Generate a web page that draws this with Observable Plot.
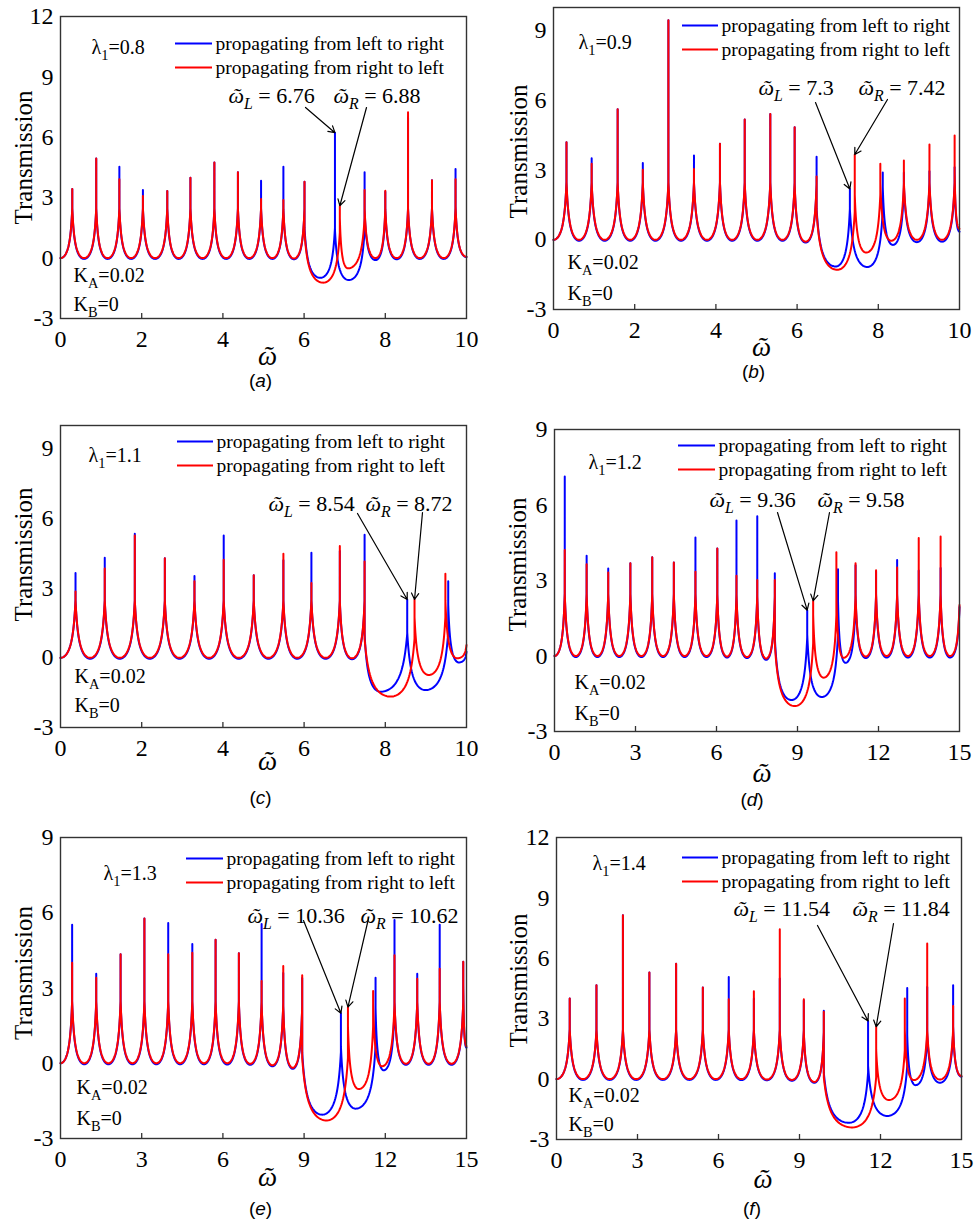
<!DOCTYPE html>
<html><head><meta charset="utf-8">
<script src="https://cdn.jsdelivr.net/npm/d3@7"></script>
<script src="https://cdn.jsdelivr.net/npm/@observablehq/plot@0.6"></script>
<style>
html,body{margin:0;padding:0;background:#fff;}
#fig{position:relative;width:975px;height:1219px;overflow:hidden;background:#fff;}
#fig > div{position:absolute;}
#fig svg{overflow:visible;}
#fig svg text{font-family:'Liberation Serif','Times New Roman',serif !important;font-variant:normal !important;}
</style></head><body><div id="fig"></div>
<script>
// ---------- data ----------
const lambdas = [0.8, 0.9, 1.1, 1.2, 1.3, 1.4];
const omegaL = [6.76, 7.3, 8.54, 9.36, 10.36, 11.54];
const omegaR = [6.88, 7.42, 8.72, 9.58, 10.62, 11.84];
const captions = ["a", "b", "c", "d", "e", "f"];
const kA = 0.02, kB = 0;
const legendLabels = ["propagating from left to right", "propagating from right to left"];
const xTicks10 = [0, 2, 4, 6, 8, 10];
const xTicks15 = [0, 3, 6, 9, 12, 15];
const yTicks12 = [-3, 0, 3, 6, 9, 12];
const yTicks9 = [-3, 0, 3, 6, 9];
const omegaSym = "ῶ";

// keypoints [omega, transmission] (troughs and peak tops)
const aBlue = [[0,0],[0.29,3.43],[0.58,-0.04],[0.88,4.95],[1.16,-0.04],[1.45,4.54],[1.74,-0.04],[2.03,3.38],[2.33,-0.04],[2.63,3.33],[2.91,-0.04],[3.20,3.99],[3.50,-0.04],[3.79,4.75],[4.08,-0.04],[4.37,4.26],[4.65,-0.04],[4.94,3.84],[5.22,-0.04],[5.49,4.54],[5.75,-0.06],[6.01,3.79],[6.40,-0.98],[6.76,6.23],[7.10,-1.09],[7.49,4.26],[7.76,-0.10],[8.00,3.30],[8.28,-0.06],[8.56,7.00],[8.85,-0.04],[9.15,3.87],[9.44,-0.04],[9.73,4.42],[10,0.05]];
const aRed = [[0,0],[0.29,3.43],[0.58,0],[0.88,4.95],[1.16,0],[1.45,3.92],[1.74,0],[2.03,3.08],[2.33,0],[2.63,3.33],[2.91,0],[3.20,3.99],[3.50,0],[3.79,4.75],[4.08,0],[4.37,4.26],[4.65,0],[4.94,2.93],[5.22,0],[5.49,2.88],[5.75,-0.02],[6.01,3.79],[6.47,-1.22],[6.88,2.60],[7.08,-0.51],[7.49,3.38],[7.76,0],[8.00,3.35],[8.28,0],[8.56,7.24],[8.85,0],[9.15,3.87],[9.44,0],[9.73,3.92],[10,0.07]];

const bBlue = [[0,0],[0.32,4.20],[0.63,-0.04],[0.94,3.51],[1.26,-0.04],[1.58,5.62],[1.89,-0.04],[2.20,3.31],[2.51,-0.04],[2.83,9.45],[3.14,-0.04],[3.46,3.63],[3.78,-0.04],[4.10,4.13],[4.40,-0.04],[4.71,5.18],[5.02,-0.04],[5.34,5.42],[5.64,-0.04],[5.94,4.85],[6.21,-0.12],[6.48,3.58],[6.95,-1.15],[7.30,2.19],[7.73,-1.17],[8.11,2.90],[8.36,-0.22],[8.63,2.90],[8.95,-0.10],[9.26,2.95],[9.57,-0.08],[9.88,3.12],[10,0.35]];
const bRed = [[0,0],[0.32,4.20],[0.63,0],[0.94,3.27],[1.26,0],[1.58,5.62],[1.89,0],[2.20,3.02],[2.51,0],[2.83,9.45],[3.14,0],[3.46,3.05],[3.78,0],[4.10,4.13],[4.40,0],[4.71,5.18],[5.02,0],[5.34,5.42],[5.64,0],[5.94,4.85],[6.21,-0.08],[6.48,2.73],[6.99,-1.29],[7.42,3.67],[7.70,-0.55],[8.05,3.27],[8.32,-0.04],[8.63,3.41],[8.95,0],[9.26,4.10],[9.57,0],[9.88,4.49],[10,0.47]];

const cBlue = [[0,0],[0.37,3.65],[0.73,-0.04],[1.09,4.31],[1.46,-0.04],[1.83,5.34],[2.20,-0.04],[2.57,4.29],[2.93,-0.04],[3.30,3.52],[3.66,-0.04],[4.02,5.27],[4.39,-0.04],[4.76,3.55],[5.12,-0.04],[5.49,4.20],[5.83,-0.04],[6.18,4.52],[6.53,-0.04],[6.88,4.60],[7.18,-0.06],[7.49,5.30],[7.88,-1.46],[8.54,2.51],[8.99,-1.39],[9.55,3.30],[9.81,-0.20],[10,0.26]];
const cRed = [[0,0],[0.37,2.85],[0.73,0],[1.09,3.84],[1.46,0],[1.83,5.27],[2.20,0],[2.57,4.29],[2.93,0],[3.30,3.30],[3.66,0],[4.02,4.22],[4.39,0],[4.76,3.55],[5.12,0],[5.49,4.48],[5.83,0],[6.18,3.22],[6.53,0],[6.88,4.81],[7.18,-0.02],[7.49,4.15],[8.13,-1.67],[8.72,2.51],[9.07,-0.74],[9.48,3.62],[9.77,-0.02],[10,0.55]];

const dBlue = [[0,0],[0.38,7.13],[0.79,-0.04],[1.19,3.98],[1.59,-0.04],[1.99,3.48],[2.40,-0.04],[2.81,3.69],[3.22,-0.04],[3.62,3.92],[4.02,-0.04],[4.42,3.72],[4.82,-0.04],[5.22,4.71],[5.63,-0.04],[6.03,4.27],[6.39,-0.06],[6.74,5.38],[7.13,-0.08],[7.51,5.55],[7.84,-0.15],[8.16,3.29],[8.78,-1.75],[9.36,1.82],[9.90,-1.63],[10.50,3.45],[10.78,-0.27],[11.15,3.61],[11.53,-0.08],[11.91,3.36],[12.30,-0.06],[12.69,3.81],[13.09,-0.06],[13.49,3.40],[13.90,-0.06],[14.30,3.50],[14.65,-0.06],[15,1.95]];
const dRed = [[0,0],[0.38,4.21],[0.79,0],[1.19,3.65],[1.59,0],[1.99,3.32],[2.40,0],[2.81,3.69],[3.22,0],[3.62,3.92],[4.02,0],[4.42,3.72],[4.82,0],[5.22,3.35],[5.63,0],[6.03,4.27],[6.39,-0.02],[6.74,3.19],[7.13,-0.04],[7.51,3.02],[7.84,-0.10],[8.16,3.02],[8.90,-1.99],[9.58,2.19],[9.97,-0.86],[10.44,4.12],[10.71,-0.07],[11.15,3.69],[11.53,-0.02],[11.91,3.41],[12.30,0],[12.69,3.52],[13.09,0],[13.49,4.69],[13.90,0],[14.30,4.75],[14.65,0],[15,2.03]];

const eBlue = [[0,0],[0.43,5.52],[0.88,-0.04],[1.32,3.57],[1.77,-0.04],[2.22,4.35],[2.66,-0.04],[3.10,5.77],[3.54,-0.04],[3.98,5.59],[4.42,-0.04],[4.87,4.75],[5.30,-0.04],[5.73,4.92],[6.16,-0.05],[6.59,4.39],[7.01,-0.06],[7.43,5.55],[7.83,-0.12],[8.23,3.60],[8.58,-0.22],[8.93,3.40],[9.67,-2.05],[10.36,1.99],[10.90,-1.81],[11.64,3.41],[11.94,-0.28],[12.34,5.71],[12.76,-0.06],[13.18,3.57],[13.60,-0.06],[14.01,5.52],[14.45,-0.06],[14.88,4.05],[15,0.62]];
const eRed = [[0,0],[0.43,4.01],[0.88,0],[1.32,3.41],[1.77,0],[2.22,4.35],[2.66,0],[3.10,5.77],[3.54,0],[3.98,4.35],[4.42,0],[4.87,4.41],[5.30,0],[5.73,4.92],[6.16,0],[6.59,4.39],[7.01,-0.02],[7.43,3.28],[7.83,-0.08],[8.23,3.88],[8.58,-0.18],[8.93,3.51],[9.83,-2.28],[10.62,2.24],[11.02,-1.03],[11.55,2.88],[11.88,-0.12],[12.34,4.31],[12.76,-0.02],[13.18,3.37],[13.60,-0.02],[14.01,3.77],[14.45,-0.02],[14.88,4.05],[15,0.68]];

const fBlue = [[0,0],[0.49,4.00],[0.98,-0.04],[1.48,4.66],[1.97,-0.04],[2.46,8.14],[2.95,-0.04],[3.44,5.29],[3.94,-0.04],[4.43,5.73],[4.92,-0.04],[5.42,4.55],[5.90,-0.04],[6.38,5.07],[6.85,-0.05],[7.31,4.00],[7.79,-0.06],[8.27,5.00],[8.72,-0.08],[9.16,3.90],[9.55,-0.18],[9.90,3.40],[10.83,-2.17],[11.54,2.89],[12.25,-1.83],[12.99,4.53],[13.30,-0.30],[13.73,4.58],[14.20,-0.18],[14.69,4.66],[15,0.12]];
const fRed = [[0,0],[0.49,4.00],[0.98,0],[1.48,4.66],[1.97,0],[2.46,8.14],[2.95,0],[3.44,5.29],[3.94,0],[4.43,5.73],[4.92,0],[5.42,4.55],[5.90,0],[6.38,3.97],[6.85,0],[7.31,4.36],[7.79,-0.02],[8.27,7.44],[8.72,-0.04],[9.16,3.97],[9.55,-0.14],[9.90,3.35],[10.95,-2.40],[11.84,2.60],[12.31,-1.04],[12.90,4.00],[13.23,-0.05],[13.73,6.73],[14.20,-0.02],[14.69,3.63],[15,0.15]];

// ---------- layout (page pixels / frame-relative pixels) ----------
const layout = [
  {col:0,   w:487, l:60,  r:466, t:16,  b:318,  xd:[0,10], yd:[-3,12], xt:xTicks10, yt:yTicks12, blue:aBlue, red:aRed,
   leg:[115,152,27,51], lam:[31,31], ka:[13,43], kb:[13,14], txtL:[168,79], txtR:[273,79], arrL:[245,91], arrR:[306,91], ylab:[-37,-10], xlab:[4,38], cap:[-3,62]},
  {col:487, w:488, l:553, r:959, t:7,   b:309,  xd:[0,10], yd:[-3,10], xt:xTicks10, yt:yTicks9, blue:bBlue, red:bRed,
   leg:[129,165,18,42], lam:[25,35], ka:[14,47], kb:[14,16], txtL:[205,80], txtR:[305,80], arrL:[262,95], arrR:[334,92], ylab:[-35,-7], xlab:[5,38], cap:[-3,62]},
  {col:0,   w:487, l:60,  r:466, t:425, b:727,  xd:[0,10], yd:[-3,10], xt:xTicks10, yt:yTicks9, blue:cBlue, red:cRed,
   leg:[117,153,16,40], lam:[28,30], ka:[14,51], kb:[14,22], txtL:[208,78], txtR:[305,78], arrL:[297,88], arrR:[362,87], ylab:[-37,-22], xlab:[4,34], cap:[-3,70]},
  {col:487, w:488, l:554, r:959, t:429, b:731,  xd:[0,15], yd:[-3,9], xt:xTicks15, yt:yTicks9, blue:dBlue, red:dRed,
   leg:[124,161,16,40], lam:[34,33], ka:[20,49], kb:[20,18], txtL:[155,70], txtR:[263,70], arrL:[223,83], arrR:[275,83], ylab:[-37,-16], xlab:[5,42], cap:[-5,68]},
  {col:0,   w:487, l:60,  r:466, t:837, b:1138, xd:[0,15], yd:[-3,9], xt:xTicks15, yt:yTicks9, blue:eBlue, red:eRed,
   leg:[126,163,21,45], lam:[43,36], ka:[16,51], kb:[16,20], txtL:[187,78], txtR:[300,78], arrL:[243,83], arrR:[308,81], ylab:[-37,-15], xlab:[4,39], cap:[-3,70]},
  {col:487, w:488, l:556, r:961, t:837, b:1139, xd:[0,15], yd:[-3,12], xt:xTicks15, yt:yTicks12, blue:fBlue, red:fRed,
   leg:[126,162,20,44], lam:[36,26], ka:[12,44], kb:[12,15], txtL:[177,71], txtR:[296,71], arrL:[261,88], arrR:[337,86], ylab:[-38,-8], xlab:[4,40], cap:[-7,69]}
];

// resonance-style curve: flat at troughs, vertical at peak tops
function cusp(S) {
  const k = 4;
  const T = d => 1 / (1 + k * d);
  const den = T(0) + T(2) - 2 * T(1);
  const G = d => (T(d) + T(2 - d) - 2 * T(1)) / den;
  const N = 40;
  return function(context) {
    let pts = [];
    return {
      areaStart() {}, areaEnd() {},
      lineStart() { pts = []; },
      point(x, y) { pts.push([+x, +y]); },
      lineEnd() {
        if (!pts.length) return;
        context.moveTo(pts[0][0], pts[0][1]);
        for (let i = 1; i < pts.length; i++) {
          const [x0, y0] = pts[i - 1], [x1, y1] = pts[i];
          const rising = y1 < y0;
          const s = Math.min(Math.abs(y1 - y0), S);
          for (let j = 1; j <= N; j++) {
            const u = j / N;
            let x, y;
            if (rising) {
              const d = (1 - u) * (1 - u);
              x = x1 - d * (x1 - x0);
              y = d === 0 ? y1 : y0 - s * G(d);
            } else {
              const d = u * u;
              x = x0 + d * (x1 - x0);
              y = y1 - s * G(d);
            }
            context.lineTo(x, y);
          }
        }
      }
    };
  };
}

// turn {i:..} {sub:..} {isub:..} {sans:..} {sansi:..} markup into tspans
function rich(svg) {
  const NS = "http://www.w3.org/2000/svg";
  svg.querySelectorAll("text").forEach(t => {
    const s = t.textContent;
    if (!s.includes("{")) return;
    const fs = parseFloat(getComputedStyle(t).fontSize) || 20;
    t.textContent = "";
    let shifted = false;
    const add = (str, kind) => {
      if (!str) return;
      const ts = document.createElementNS(NS, "tspan");
      ts.textContent = str;
      if (kind === "i" || kind === "isub" || kind === "sansi") ts.setAttribute("font-style", "italic");
      if (kind === "sans" || kind === "sansi") ts.setAttribute("font-family", "Liberation Sans, Arial, sans-serif");
      if (kind === "sub" || kind === "isub") {
        ts.setAttribute("font-size", (fs * 0.72).toFixed(1));
        if (!shifted) { ts.setAttribute("dy", (fs * 0.3).toFixed(1)); shifted = true; }
      } else if (shifted) { ts.setAttribute("dy", (-fs * 0.3).toFixed(1)); shifted = false; }
      t.appendChild(ts);
    };
    const re = /\{(i|sub|isub|sans|sansi):([^}]*)\}/g;
    let last = 0, m;
    while ((m = re.exec(s))) { add(s.slice(last, m.index), "n"); add(m[2], m[1]); last = re.lastIndex; }
    add(s.slice(last), "n");
  });
}

const serif = "Liberation Serif";
const fig = document.getElementById("fig");

layout.forEach((p, i) => {
  const fw = p.r - p.l, fh = p.b - p.t;
  const mt = Math.min(15, p.t), mb = 88;
  const X = rx => p.xd[0] + rx / fw * (p.xd[1] - p.xd[0]);
  const Y = ry => p.yd[1] - ry / fh * (p.yd[1] - p.yd[0]);
  const ppu = fh / (p.yd[1] - p.yd[0]);
  const curve = cusp(2.5 * ppu);
  const nearest = (arr, x) => arr.reduce((a, d) => Math.abs(d[0] - x) < Math.abs(a[0] - x) ? d : a);
  const tipL = nearest(p.blue, omegaL[i]), tipR = nearest(p.red, omegaR[i]);
  const txt = (s, o) => Plot.text([s], {text: d => d, fill: "#000", textAnchor: "middle", lineAnchor: "middle", ...o});
  const tl = (s, xy, size) => txt(s, {frameAnchor: "top-left", dx: xy[0], dy: xy[1], textAnchor: "start", fontSize: size});
  const bl = (s, xy, size) => txt(s, {frameAnchor: "bottom-left", dx: xy[0], dy: -xy[1], textAnchor: "start", fontSize: size});

  const chart = Plot.plot({
    width: p.w, height: mt + fh + mb,
    marginLeft: p.l - p.col, marginRight: p.col + p.w - p.r, marginTop: mt, marginBottom: mb,
    x: {domain: p.xd, axis: null},
    y: {domain: p.yd, axis: null},
    style: {fontFamily: serif, fontSize: "24px", color: "#000", background: "transparent", overflow: "visible"},
    marks: [
      Plot.line(p.blue, {x: d => d[0], y: d => d[1], stroke: "#0000ff", strokeWidth: 2, curve}),
      Plot.line(p.red, {x: d => d[0], y: d => d[1], stroke: "#ff0000", strokeWidth: 2, curve}),
      Plot.ruleX(p.xt.slice(1, -1), {x: d => d, y1: () => p.yd[0], y2: () => p.yd[0] + 5 / ppu, stroke: "#333", strokeWidth: 1.3}),
      Plot.frame({stroke: "#333", strokeWidth: 1.4}),
      Plot.axisX({ticks: p.xt, tickSize: 0, tickPadding: 11, tickFormat: d => String(d), label: null, fontSize: 24}),
      Plot.axisY({ticks: p.yt, tickSize: 0, tickPadding: 7, tickFormat: d => String(d), label: null, fontSize: 24}),
      // legend
      Plot.ruleY([{y: Y(p.leg[2]), x1: X(p.leg[0]), x2: X(p.leg[1])}], {y: "y", x1: "x1", x2: "x2", stroke: "#0000ff", strokeWidth: 2}),
      Plot.ruleY([{y: Y(p.leg[3]), x1: X(p.leg[0]), x2: X(p.leg[1])}], {y: "y", x1: "x1", x2: "x2", stroke: "#ff0000", strokeWidth: 2}),
      tl(legendLabels[0], [p.leg[1] + 3, p.leg[2]], 19.5),
      tl(legendLabels[1], [p.leg[1] + 3, p.leg[3]], 19.5),
      // parameters
      tl(`λ{sub:1}=${lambdas[i]}`, p.lam, 20),
      bl(`K{sub:A}=${kA}`, p.ka, 20),
      bl(`K{sub:B}=${kB}`, p.kb, 20),
      // annotations
      tl(`{i:${omegaSym}}{isub:L} = ${omegaL[i]}`, p.txtL, 22),
      tl(`{i:${omegaSym}}{isub:R} = ${omegaR[i]}`, p.txtR, 22),
      Plot.arrow([{x1: X(p.arrL[0]), y1: Y(p.arrL[1]), x2: tipL[0], y2: tipL[1]}], {x1: "x1", y1: "y1", x2: "x2", y2: "y2", stroke: "#000", strokeWidth: 1.2, headLength: 9}),
      Plot.arrow([{x1: X(p.arrR[0]), y1: Y(p.arrR[1]), x2: tipR[0], y2: tipR[1]}], {x1: "x1", y1: "y1", x2: "x2", y2: "y2", stroke: "#000", strokeWidth: 1.2, headLength: 9}),
      // axis titles and caption
      txt("Transmission", {frameAnchor: "left", rotate: -90, dx: p.ylab[0], dy: p.ylab[1], fontSize: 25}),
      txt(`{i:${omegaSym}}`, {frameAnchor: "bottom", dx: p.xlab[0], dy: p.xlab[1], fontSize: 27}),
      txt(`{sans:(}{sansi:${captions[i]}}{sans:)}`, {frameAnchor: "bottom", dx: p.cap[0], dy: p.cap[1], fontSize: 19})
    ]
  });
  const div = document.createElement("div");
  div.style.left = p.col + "px";
  div.style.top = (p.t - mt) + "px";
  div.appendChild(chart);
  fig.appendChild(div);
  rich(chart);
});
</script>
</body></html>
